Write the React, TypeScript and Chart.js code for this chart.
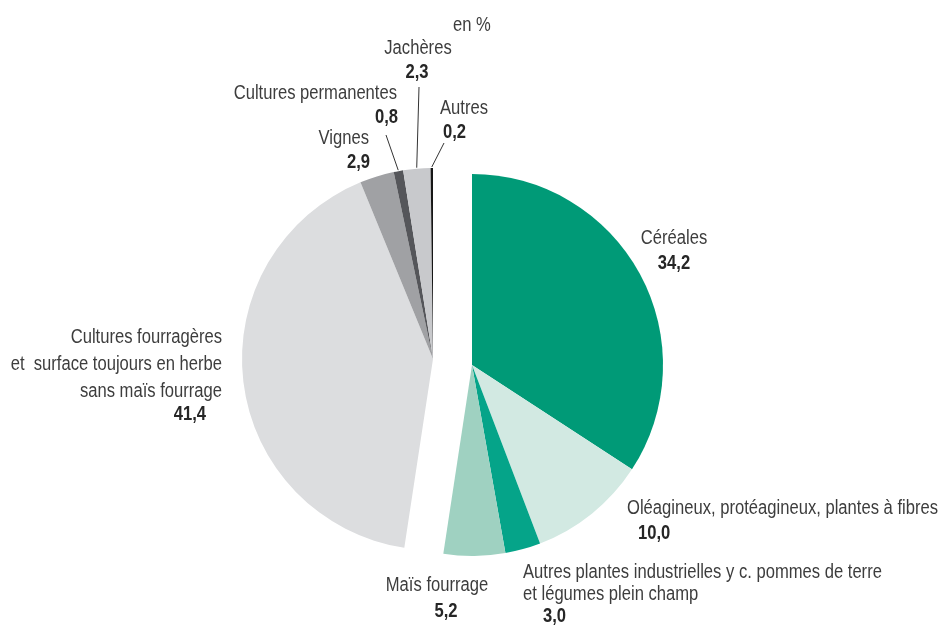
import React, { useEffect, useRef } from "react";
import { Chart, registerables } from "chart.js";

Chart.register(...registerables);

// ---- Data ----
const categories: string[] = [
  "Céréales",
  "Oléagineux, protéagineux, plantes à fibres",
  "Autres plantes industrielles y c. pommes de terre et légumes plein champ",
  "Maïs fourrage",
  "Cultures fourragères et surface toujours en herbe sans maïs fourrage",
  "Vignes",
  "Cultures permanentes",
  "Jachères",
  "Autres",
];
const values: number[] = [34.2, 10.0, 3.0, 5.2, 41.4, 2.9, 0.8, 2.3, 0.2];
const labelLines: string[][] = [
  ["Céréales"],
  ["Oléagineux, protéagineux, plantes à fibres"],
  ["Autres plantes industrielles y c. pommes de terre", "et légumes plein champ"],
  ["Maïs fourrage"],
  ["Cultures fourragères", "et  surface toujours en herbe", "sans maïs fourrage"],
  ["Vignes"],
  ["Cultures permanentes"],
  ["Jachères"],
  ["Autres"],
];
const unitLabel = "en %";

// ---- Styles ----
const colors: string[] = [
  "#009a77",
  "#d2e9e2",
  "#05a489",
  "#9fd1c1",
  "#dcdddf",
  "#a0a1a4",
  "#55565a",
  "#c8c9cc",
  "#161616",
];
const exploded: boolean[] = [true, true, true, true, false, false, false, false, false];
const explodeShift = { dx: 39, dy: 6 };

type Align = "left" | "center" | "right";
interface LabelLayout {
  lines: { dx: number; dy: number }[];
  value: { dx: number; dy: number };
  align: Align;
  leaderEnd?: { dx: number; dy: number };
}
// offsets relative to the (non-exploded) pie centre
const labelLayout: LabelLayout[] = [
  { lines: [{ dx: 241, dy: -121 }], value: { dx: 241, dy: -96 }, align: "center" },
  { lines: [{ dx: 194, dy: 149 }], value: { dx: 205, dy: 174 }, align: "left" },
  { lines: [{ dx: 90, dy: 213 }, { dx: 90, dy: 235 }], value: { dx: 110, dy: 257 }, align: "left" },
  { lines: [{ dx: 4, dy: 226 }], value: { dx: 13, dy: 252 }, align: "center" },
  {
    lines: [{ dx: -211, dy: -22 }, { dx: -211, dy: 5 }, { dx: -211, dy: 32 }],
    value: { dx: -227, dy: 55 },
    align: "right",
  },
  { lines: [{ dx: -64, dy: -221 }], value: { dx: -63, dy: -197 }, align: "right" },
  { lines: [{ dx: -36, dy: -266 }], value: { dx: -35, dy: -242 }, align: "right", leaderEnd: { dx: -47, dy: -224 } },
  { lines: [{ dx: -15, dy: -311 }], value: { dx: -16, dy: -287 }, align: "center", leaderEnd: { dx: -14, dy: -272 } },
  { lines: [{ dx: 7, dy: -251 }], value: { dx: 10, dy: -227 }, align: "left", leaderEnd: { dx: 11, dy: -216 } },
];
const unitPos = { dx: 20, dy: -334 };

const FONT = '"Liberation Sans", Arial, sans-serif';
const FONT_SIZE = 20;
const TEXT_SCALE_X = 0.83; // condensed look
const TEXT_COLOR = "#3d3d3d";
const VALUE_COLOR = "#262626";

const fmt = (v: number) => v.toFixed(1).replace(".", ",");

function drawText(ctx: CanvasRenderingContext2D, text: string, x: number, y: number, align: Align) {
  ctx.save();
  ctx.translate(x, y);
  ctx.scale(TEXT_SCALE_X, 1);
  ctx.textAlign = align;
  ctx.fillText(text, 0, 0);
  ctx.restore();
}

const explodePlugin = {
  id: "explodeGroup",
  afterDatasetsUpdate(chart: any) {
    const meta = chart.getDatasetMeta(0);
    meta.data.forEach((el: any, i: number) => {
      if (exploded[i]) {
        el.x += explodeShift.dx;
        el.y += explodeShift.dy;
      }
    });
  },
};

const labelPlugin = {
  id: "sliceLabels",
  afterDraw(chart: any) {
    const ctx: CanvasRenderingContext2D = chart.ctx;
    const meta = chart.getDatasetMeta(0);
    const ref = meta.data.find((_: any, i: number) => !exploded[i]);
    const cx = ref.x;
    const cy = ref.y;
    ctx.save();
    ctx.textBaseline = "middle";
    meta.data.forEach((arc: any, i: number) => {
      const L = labelLayout[i];
      ctx.font = `${FONT_SIZE}px ${FONT}`;
      ctx.fillStyle = TEXT_COLOR;
      labelLines[i].forEach((t, k) => {
        drawText(ctx, t, cx + L.lines[k].dx, cy + L.lines[k].dy, L.align);
      });
      ctx.font = `bold ${FONT_SIZE}px ${FONT}`;
      ctx.fillStyle = VALUE_COLOR;
      drawText(ctx, fmt(values[i]), cx + L.value.dx, cy + L.value.dy, L.align);
      if (L.leaderEnd) {
        const mid = (arc.startAngle + arc.endAngle) / 2;
        const r = arc.outerRadius + 1;
        const sx = arc.x + Math.cos(mid) * r;
        const sy = arc.y + Math.sin(mid) * r;
        ctx.beginPath();
        ctx.strokeStyle = "#333333";
        ctx.lineWidth = 1;
        ctx.moveTo(sx, sy);
        ctx.lineTo(cx + L.leaderEnd.dx, cy + L.leaderEnd.dy);
        ctx.stroke();
      }
    });
    ctx.font = `${FONT_SIZE}px ${FONT}`;
    ctx.fillStyle = TEXT_COLOR;
    drawText(ctx, unitLabel, cx + unitPos.dx, cy + unitPos.dy, "left");
    ctx.restore();
  },
};

export default function App() {
  const canvasRef = useRef<HTMLCanvasElement | null>(null);
  useEffect(() => {
    document.body.style.margin = "0";
    const canvas = canvasRef.current;
    if (!canvas) return;
    const chart = new Chart(canvas, {
      type: "pie",
      data: {
        labels: categories,
        datasets: [
          {
            data: values,
            backgroundColor: colors,
            borderWidth: 0,
          },
        ],
      },
      options: {
        responsive: false,
        animation: false,
        devicePixelRatio: 1,
        layout: { padding: { left: 242, right: 317, top: 168, bottom: 78 } },
        plugins: {
          legend: { display: false },
          tooltip: { enabled: false },
        },
      },
      plugins: [explodePlugin, labelPlugin],
    });
    return () => chart.destroy();
  }, []);
  return (
    <div style={{ position: "absolute", left: 0, top: 0, width: 941, height: 628, background: "#fff" }}>
      <canvas ref={canvasRef} width={941} height={628} />
    </div>
  );
}
